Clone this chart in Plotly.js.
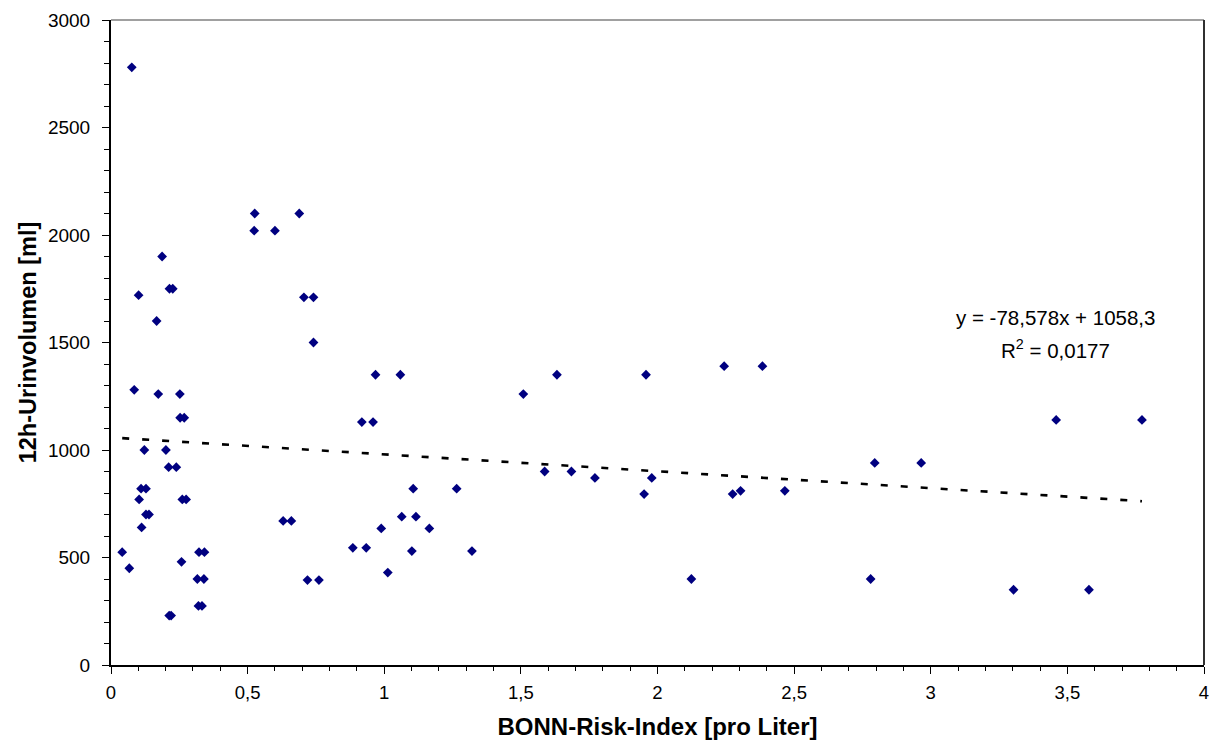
<!DOCTYPE html>
<html>
<head>
<meta charset="utf-8">
<script src="https://cdn.plot.ly/plotly-3.0.1.min.js"></script>
<style>
  html, body { margin: 0; padding: 0; background: #ffffff; }
  #chart { width: 1213px; height: 742px; }
</style>
</head>
<body>
<div id="chart"></div>
<script>
// BONN-Risk-Index per litre vs. 12h urine volume (ml)
const riskIndex = [
  0.076, 0.526, 0.689, 0.524, 0.600, 0.187, 0.101, 0.214, 0.226, 0.706,
  0.741, 0.167, 0.741, 0.085, 0.173, 0.252, 0.253, 0.268, 0.122, 0.201,
  0.211, 0.239, 0.110, 0.128, 0.103, 0.261, 0.275, 0.128, 0.139, 0.112,
  0.630, 0.660, 0.041, 0.322, 0.342, 0.067, 0.258, 0.316, 0.340, 0.320,
  0.333, 0.213, 0.220, 0.719, 0.761, 0.968, 1.059, 1.632, 1.958, 0.918,
  0.959, 1.509, 1.587, 1.685, 1.771, 1.979, 1.106, 1.265, 1.064, 1.116,
  0.989, 1.165, 0.885, 0.934, 1.101, 1.321, 1.013, 2.244, 2.384, 1.951,
  2.275, 2.304, 2.466, 2.124, 2.780, 2.795, 2.965, 3.459, 3.773, 3.303,
  3.579
];
const urineVolume = [
  2780, 2100, 2100, 2020, 2020, 1900, 1720, 1750, 1750, 1710,
  1710, 1600, 1500, 1280, 1260, 1260, 1150, 1150, 1000, 1000,
   920,  920,  820,  820,  770,  770,  770,  700,  700,  640,
   670,  670,  525,  525,  525,  450,  480,  400,  400,  275,
   275,  230,  230,  395,  395, 1350, 1350, 1350, 1350, 1130,
  1130, 1260,  900,  900,  870,  870,  820,  820,  690,  690,
   635,  635,  545,  545,  530,  530,  430, 1390, 1390,  795,
   795,  810,  810,  400,  400,  940,  940, 1140, 1140,  350,
   350
];

// Linear trend (as printed on the chart)
const trendSlope = -78.578;
const trendIntercept = 1058.3;
const trendLabel = 'y = -78,578x + 1058,3';
const r2Label = 'R<sup>2</sup> = 0,0177';

const xMin = Math.min(...riskIndex);
const xMax = Math.max(...riskIndex);
const trendX = [xMin, xMax];
const trendY = trendX.map(x => trendSlope * x + trendIntercept);

const font = 'Liberation Sans, Arial, sans-serif';

const traces = [
  {
    type: 'scatter',
    mode: 'markers',
    x: riskIndex,
    y: urineVolume,
    marker: { symbol: 'diamond', size: 7.5, color: '#000080', line: { width: 0 } },
    hoverinfo: 'x+y'
  },
  {
    type: 'scatter',
    mode: 'lines',
    x: trendX,
    y: trendY,
    line: { color: '#000000', width: 2.6, dash: '7px,13px' },
    hoverinfo: 'skip'
  }
];

const layout = {
  width: 1213,
  height: 742,
  margin: { l: 111, r: 9, t: 20, b: 77 },
  paper_bgcolor: '#ffffff',
  plot_bgcolor: '#ffffff',
  showlegend: false,
  separators: ',.',
  font: { family: font, color: '#000000', size: 19 },
  xaxis: {
    range: [0, 4],
    dtick: 0.5,
    tick0: 0,
    ticks: 'outside',
    ticklen: 7,
    tickwidth: 1,
    tickcolor: '#000000',
    minor: { dtick: 0.1, ticks: 'outside', ticklen: 4, tickwidth: 1, tickcolor: '#000000' },
    showgrid: false,
    zeroline: false,
    showline: true,
    linecolor: '#000000',
    linewidth: 2,
    tickfont: { family: font, size: 18.5, color: '#000000' },
    ticklabelstandoff: 3,
    title: {
      text: 'BONN-Risk-Index [pro Liter]',
      font: { family: font, size: 24, color: '#000000', weight: 'bold' },
      standoff: 16
    },
    fixedrange: true
  },
  yaxis: {
    range: [0, 3000],
    dtick: 500,
    tick0: 0,
    ticks: 'outside',
    ticklen: 7,
    tickwidth: 1,
    tickcolor: '#000000',
    minor: { dtick: 100, ticks: 'outside', ticklen: 5, tickwidth: 1, tickcolor: '#000000' },
    showgrid: false,
    zeroline: false,
    showline: true,
    linecolor: '#000000',
    linewidth: 2,
    tickfont: { family: font, size: 19, color: '#000000' },
    ticklabelstandoff: 8,
    title: {
      text: '12h-Urinvolumen [ml]',
      font: { family: font, size: 23.5, color: '#000000', weight: 'bold' },
      standoff: 5
    },
    fixedrange: true
  },
  shapes: [
    // plot-area frame: top and right edges
    { type: 'line', xref: 'paper', yref: 'paper', x0: 0, x1: 1, y0: 1, y1: 1,
      line: { color: '#808080', width: 1.5 } },
    { type: 'line', xref: 'paper', yref: 'paper', x0: 1, x1: 1, y0: 0, y1: 1,
      line: { color: '#303030', width: 2 } }
  ],
  annotations: [
    { x: 3.458, y: 1615, xref: 'x', yref: 'y', text: trendLabel, showarrow: false,
      xanchor: 'center', yanchor: 'middle', font: { family: font, size: 20.5, color: '#000000' } },
    { x: 3.458, y: 1468, xref: 'x', yref: 'y', text: r2Label, showarrow: false,
      xanchor: 'center', yanchor: 'middle', font: { family: font, size: 20.5, color: '#000000' } }
  ]
};

Plotly.newPlot('chart', traces, layout, { displayModeBar: false, staticPlot: true });
</script>
</body>
</html>
